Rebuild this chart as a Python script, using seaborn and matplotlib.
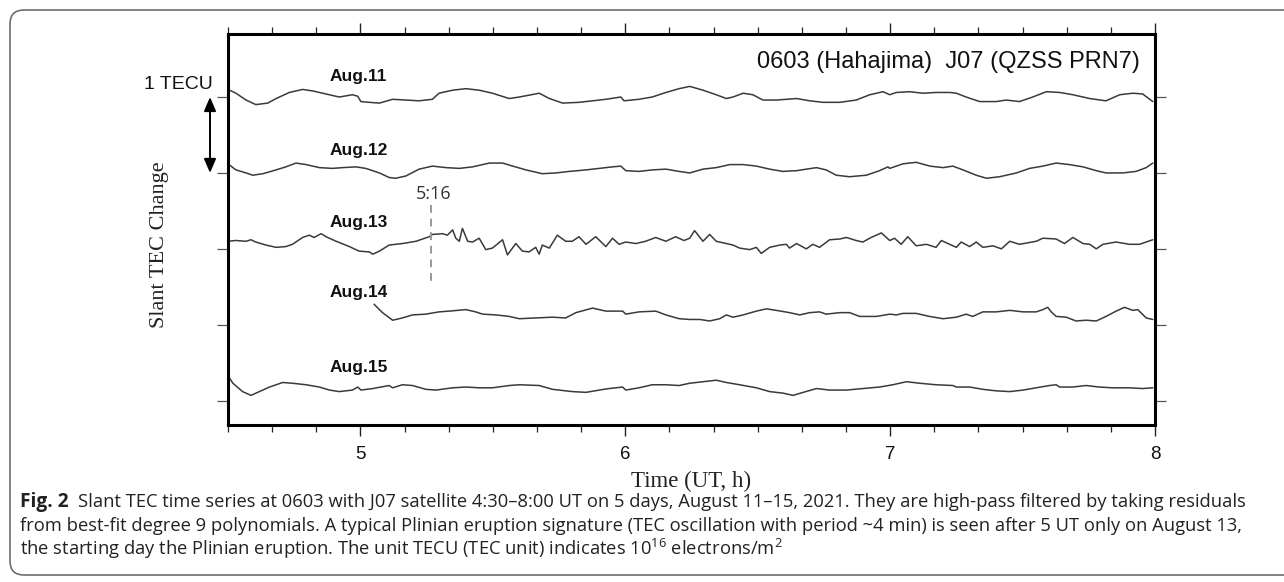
import numpy as np
import pandas as pd
import matplotlib
matplotlib.use("Agg")
import matplotlib.pyplot as plt
import matplotlib.transforms as mtransforms
from matplotlib.patches import FancyBboxPatch
from matplotlib.ticker import MultipleLocator, FixedLocator
import seaborn as sns

# ---------------- data (minutes after 4:30 UT, slant TEC residual in TECU) -------------
days = ["Aug.11", "Aug.12", "Aug.13", "Aug.14", "Aug.15"]

aug11_min = [0, 1.8, 4.1, 6.3, 9.0, 10.9, 13.9, 16.9, 19.2, 22.2, 25.2, 28.2, 29.4, 30.1, 32.0, 34.3,
             37.3, 40.3, 43.3, 46.3, 47.8, 50.9, 53.9, 56.9, 59.9, 63.7, 66.0, 70.5, 72.8, 75.8, 79.5,
             82.6, 85.6, 89.0, 89.7, 93.1, 96.1, 99.2, 102.2, 104.6, 107.6, 110.6, 112.9, 114.4, 116.7,
             118.9, 121.2, 124.2, 128.8, 131.8, 134.8, 138.6, 142.3, 145.4, 148.4, 149.9, 151.4, 154.4,
             157.4, 160.4, 163.5, 165.0, 167.2, 170.3, 174.0, 176.3, 179.3, 182.3, 185.4, 188.4, 191.4,
             195.2, 198.9, 202.0, 205.0, 207.2, 209.5]
aug11_tec = [0.10, 0.05, -0.04, -0.10, -0.08, -0.02, 0.06, 0.10, 0.08, 0.04, 0.00, 0.03, 0.01, -0.06,
             -0.07, -0.08, -0.03, -0.04, -0.05, -0.03, 0.05, 0.09, 0.11, 0.09, 0.05, -0.02, 0.00, 0.05,
             -0.02, -0.08, -0.07, -0.05, -0.03, 0.00, -0.05, -0.03, 0.00, 0.06, 0.11, 0.14, 0.09, 0.03,
             -0.02, 0.00, 0.05, 0.03, -0.04, -0.04, -0.02, -0.05, -0.07, -0.07, -0.04, 0.03, 0.07, 0.03,
             0.06, 0.07, 0.05, 0.06, 0.06, 0.05, 0.00, -0.06, -0.06, -0.04, -0.06, 0.00, 0.07, 0.06, 0.03,
             -0.02, -0.05, 0.03, 0.05, 0.04, -0.06]

aug12_min = [0, 1.8, 4.1, 5.6, 7.9, 10.9, 13.1, 15.4, 17.7, 20.7, 23.7, 26.0, 29.0, 31.2, 34.3, 36.5,
             38.0, 40.3, 43.3, 46.3, 49.4, 52.4, 55.4, 59.2, 62.2, 64.5, 67.5, 71.2, 74.3, 77.3, 81.1,
             84.1, 87.1, 89.0, 90.1, 93.1, 96.1, 99.2, 102.2, 104.6, 107.6, 110.6, 113.7, 116.7, 119.7,
             122.7, 125.7, 128.8, 133.3, 135.5, 137.8, 140.8, 144.6, 147.6, 149.5, 149.9, 152.9, 155.9,
             159.0, 162.0, 164.2, 166.5, 169.5, 171.8, 174.8, 178.6, 181.6, 184.6, 187.6, 190.6, 193.7,
             196.7, 198.9, 202.7, 205.7, 208.0, 209.5]
aug12_tec = [0.12, 0.04, 0.00, -0.03, -0.01, 0.04, 0.08, 0.13, 0.11, 0.07, 0.06, 0.07, 0.08, 0.06, 0.00,
             -0.06, -0.07, -0.04, 0.05, 0.09, 0.07, 0.06, 0.08, 0.13, 0.13, 0.09, 0.04, -0.01, 0.00, 0.02,
             0.04, 0.06, 0.08, 0.09, 0.03, 0.02, 0.04, 0.05, 0.02, 0.00, 0.05, 0.07, 0.11, 0.11, 0.09,
             0.05, 0.02, 0.03, 0.07, 0.04, -0.03, -0.05, -0.03, 0.03, 0.08, 0.06, 0.12, 0.14, 0.09, 0.07,
             0.09, 0.04, -0.03, -0.07, -0.05, 0.00, 0.06, 0.09, 0.13, 0.11, 0.08, 0.03, 0.00, 0.00, 0.02,
             0.07, 0.13]

aug13_min = [0, 1.8, 4.1, 5.2, 6.3, 8.6, 10.9, 13.1, 14.6, 16.9, 18.4, 19.5, 21.1, 22.2, 24.5, 27.5,
             29.7, 32.0, 32.8, 34.3, 36.5, 39.5, 42.6, 44.1, 45.6, 46.3, 48.6, 49.7, 50.9, 51.6, 52.4,
             53.1, 54.3, 55.4, 56.9, 58.4, 59.9, 62.2, 63.3, 65.2, 66.7, 68.2, 69.7, 70.5, 71.2, 72.8,
             74.6, 76.5, 78.0, 79.5, 81.1, 83.3, 85.6, 87.1, 88.6, 90.1, 92.4, 94.6, 96.9, 99.2, 101.4,
             103.3, 104.6, 105.7, 107.6, 109.1, 110.6, 112.9, 114.4, 115.9, 118.2, 119.7, 120.8, 122.7,
             125.0, 126.5, 127.2, 128.8, 131.0, 132.5, 134.0, 136.3, 138.6, 140.1, 142.3, 143.8, 145.7,
             148.0, 149.9, 151.0, 152.5, 154.0, 155.9, 158.2, 160.4, 161.6, 163.1, 165.0, 166.1, 168.0,
             169.5, 171.0, 173.3, 175.2, 177.1, 179.3, 183.1, 184.6, 187.6, 189.5, 191.4, 193.7, 195.2,
             196.7, 198.2, 201.2, 204.2, 206.5, 209.5]
aug13_tec = [0.10, 0.11, 0.10, 0.12, 0.09, 0.05, 0.02, 0.03, 0.06, 0.15, 0.18, 0.15, 0.20, 0.16, 0.10,
             0.03, -0.03, -0.04, -0.07, -0.03, 0.05, 0.07, 0.10, 0.13, 0.16, 0.19, 0.20, 0.18, 0.25, 0.14,
             0.10, 0.27, 0.10, 0.09, 0.14, -0.01, 0.01, 0.12, -0.08, 0.07, -0.03, -0.04, 0.02, -0.07, 0.05,
             0.01, 0.18, 0.10, 0.10, 0.16, 0.06, 0.16, 0.03, 0.14, 0.06, 0.09, 0.07, 0.10, 0.15, 0.10, 0.16,
             0.11, 0.14, 0.24, 0.10, 0.19, 0.10, 0.07, 0.05, 0.01, -0.01, 0.02, -0.06, 0.02, 0.05, 0.06,
             0.01, 0.07, 0.00, 0.06, 0.02, 0.12, 0.13, 0.15, 0.11, 0.09, 0.15, 0.21, 0.11, 0.14, 0.06, 0.16,
             0.04, 0.06, 0.02, 0.11, 0.07, 0.02, 0.09, 0.03, 0.09, 0.02, 0.04, 0.00, 0.10, 0.06, 0.10, 0.14,
             0.13, 0.07, 0.15, 0.07, 0.06, 0.00, 0.06, 0.09, 0.06, 0.06, 0.12]

aug14_min = [33.1, 35.0, 37.3, 39.5, 41.8, 44.8, 47.8, 50.1, 53.9, 56.1, 57.7, 60.7, 63.7, 66.0, 69.7,
             73.5, 76.5, 78.8, 82.6, 85.6, 89.4, 90.1, 93.1, 96.9, 99.2, 102.2, 104.6, 106.9, 109.1,
             111.4, 112.9, 114.4, 116.7, 119.7, 122.0, 124.2, 127.2, 129.5, 131.8, 134.0, 135.5, 138.6,
             140.8, 143.1, 146.9, 149.9, 151.4, 152.9, 155.9, 158.9, 162.0, 165.0, 167.2, 168.7, 171.0,
             174.0, 177.1, 180.1, 183.1, 184.6, 185.7, 186.5, 187.6, 189.9, 192.1, 194.4, 196.7, 198.9,
             201.2, 203.1, 205.0, 206.1, 208.0, 209.5]
aug14_tec = [0.27, 0.16, 0.06, 0.09, 0.13, 0.14, 0.17, 0.18, 0.20, 0.17, 0.14, 0.13, 0.11, 0.08, 0.09,
             0.10, 0.09, 0.16, 0.22, 0.18, 0.18, 0.14, 0.17, 0.18, 0.13, 0.08, 0.07, 0.07, 0.05, 0.08, 0.13,
             0.10, 0.13, 0.18, 0.21, 0.19, 0.16, 0.13, 0.16, 0.17, 0.14, 0.16, 0.16, 0.11, 0.11, 0.14, 0.13,
             0.15, 0.15, 0.11, 0.08, 0.10, 0.14, 0.11, 0.17, 0.17, 0.19, 0.17, 0.17, 0.20, 0.23, 0.17, 0.11,
             0.10, 0.05, 0.06, 0.05, 0.11, 0.18, 0.23, 0.19, 0.20, 0.09, 0.07]

aug15_min = [0, 1.1, 3.3, 5.2, 7.1, 9.4, 12.4, 14.6, 17.7, 20.7, 23.0, 25.2, 28.2, 29.4, 30.1, 32.8,
             36.5, 37.3, 39.5, 41.8, 44.8, 47.1, 50.9, 53.9, 56.9, 59.9, 63.7, 66.0, 70.5, 73.5, 78.0,
             81.1, 84.1, 86.3, 89.4, 90.1, 93.1, 96.1, 99.2, 102.2, 104.6, 107.6, 110.6, 112.9, 115.9,
             119.7, 122.7, 125.7, 128.0, 130.3, 133.3, 136.3, 140.1, 143.8, 147.6, 150.6, 153.7, 156.7,
             160.4, 164.2, 165.0, 168.0, 171.0, 174.0, 177.1, 180.1, 183.1, 186.1, 187.6, 188.4, 191.4,
             194.4, 197.4, 200.4, 204.2, 207.2, 209.5]
aug15_tec = [0.33, 0.23, 0.12, 0.07, 0.12, 0.18, 0.24, 0.23, 0.21, 0.18, 0.14, 0.12, 0.14, 0.18, 0.14,
             0.16, 0.20, 0.17, 0.21, 0.20, 0.15, 0.14, 0.17, 0.18, 0.17, 0.17, 0.20, 0.21, 0.20, 0.15, 0.12,
             0.11, 0.14, 0.16, 0.18, 0.14, 0.17, 0.21, 0.21, 0.20, 0.23, 0.25, 0.27, 0.24, 0.21, 0.17, 0.12,
             0.10, 0.07, 0.11, 0.16, 0.14, 0.14, 0.16, 0.18, 0.21, 0.25, 0.23, 0.21, 0.20, 0.18, 0.18, 0.15,
             0.13, 0.12, 0.14, 0.17, 0.20, 0.21, 0.18, 0.18, 0.20, 0.18, 0.17, 0.17, 0.16, 0.17]

eruption_label = "5:16"
eruption_min = 46.0            # 5:16 UT = 46 min after 4:30
start_hour = 4.5
x_ticks = [5, 6, 7, 8]
x_ticklabels = ["5", "6", "7", "8"]

series_min = [aug11_min, aug12_min, aug13_min, aug14_min, aug15_min]
series_tec = [aug11_tec, aug12_tec, aug13_tec, aug14_tec, aug15_tec]

# ---------------- build long table, stacking each day 1 TECU below the previous -------
frames = []
for i, (d, m, v) in enumerate(zip(days, series_min, series_tec)):
    frames.append(pd.DataFrame({
        "hour": start_hour + np.asarray(m) / 60.0,
        "y": np.asarray(v) - i,
        "day": d,
    }))
df = pd.concat(frames, ignore_index=True)

# ---------------- figure ---------------------------------------------------------------
sns.set_theme(style="ticks")
plt.rcParams["font.family"] = ["Liberation Sans", "DejaVu Sans"]
plt.rcParams["mathtext.fontset"] = "custom"
plt.rcParams["mathtext.rm"] = "Open Sans"
plt.rcParams["mathtext.it"] = "Open Sans:italic"
plt.rcParams["mathtext.bf"] = "Open Sans:bold"

W, H = 1284, 582
fig = plt.figure(figsize=(W / 100, H / 100), dpi=100)
fig.patch.set_facecolor("white")

# rounded frame around the figure + caption (right side runs off the image)
frame = FancyBboxPatch((10, 7), 1500, 565, boxstyle="round,pad=0,rounding_size=14",
                       transform=mtransforms.IdentityTransform(), facecolor="none",
                       edgecolor="#6e6e6e", linewidth=1.2)
fig.add_artist(frame)

ax = fig.add_axes([228 / W, 1 - 425 / H, 927 / W, 391 / H])
ax.set_facecolor("white")

sns.lineplot(data=df, x="hour", y="y", units="day", estimator=None, sort=False,
             color="#3a3a3a", linewidth=1.1, ax=ax, legend=False)

ax.set_xlim(4.5, 8.0)
ax.set_ylim(-4.32, 0.83)

for s in ax.spines.values():
    s.set_visible(True)
    s.set_linewidth(2.2)
    s.set_color("black")

ax.xaxis.set_major_locator(FixedLocator(x_ticks))
ax.set_xticklabels(x_ticklabels)
ax.xaxis.set_minor_locator(MultipleLocator(1 / 6))
ax.set_yticks([-i for i in range(len(days))])
ax.set_yticklabels([])
ax.tick_params(axis="x", which="major", direction="out", length=8, width=1.0, color="#222",
               top=True, bottom=True, labelsize=13.5, pad=7, labelcolor="#111")
ax.tick_params(axis="x", which="minor", direction="out", length=5, width=0.9, color="#222",
               top=True, bottom=True)
ax.tick_params(axis="y", which="major", direction="out", length=8, width=0.9, color="#555",
               left=True, right=True)
ax.set_xlabel("")
ax.set_ylabel("")

# day labels
label_lift = [0.21, 0.24, 0.29, 0.36, 0.38]
for i, d in enumerate(days):
    ax.text(4.885, -i + label_lift[i], d, fontsize=12.5, fontweight="bold",
            ha="left", va="baseline", color="#111")

# station / satellite title
ax.text(0.984, 0.913, "0603 (Hahajima)  J07 (QZSS PRN7)", transform=ax.transAxes,
        ha="right", va="baseline", fontsize=17, color="#111")

# eruption onset marker
eh = start_hour + eruption_min / 60.0
ax.plot([eh, eh], [-1.42, -2.45], color="#999999", linewidth=1.4, linestyle=(0, (4, 3)))
ax.text(eh + 0.01, -1.34, eruption_label, ha="center", va="baseline", fontsize=13,
        family=["Open Sans", "DejaVu Sans"], color="#333")

# 1 TECU scale arrow (from Aug.11 baseline to Aug.12 baseline)
blend = mtransforms.blended_transform_factory(ax.transAxes, ax.transData)
ax.annotate("", xy=(-0.0194, -1.0), xytext=(-0.0194, 0.0), xycoords=blend, textcoords=blend,
            arrowprops=dict(arrowstyle="<|-|>,head_length=0.7,head_width=0.3",
                            color="black", linewidth=1.4, shrinkA=0, shrinkB=0),
            annotation_clip=False)
ax.text(-0.0162, 0.86, "1 TECU", transform=ax.transAxes, ha="right", va="baseline",
        fontsize=14, color="#111")

# axis titles (serif)
ax.text(-0.0734, 0.46, "Slant TEC Change", transform=ax.transAxes, rotation=90,
        ha="center", va="center", fontsize=16, family=["Liberation Serif", "DejaVu Serif"],
        color="#222")
ax.text(0.5, -0.158, "Time (UT, h)", transform=ax.transAxes, ha="center", va="baseline",
        fontsize=16.5, family=["Liberation Serif", "DejaVu Serif"], color="#222")

# ---------------- caption --------------------------------------------------------------
cap_font = ["Open Sans", "DejaVu Sans"]
cap_size = 13.2
x0 = 20 / W
fig.canvas.draw()
r = fig.canvas.get_renderer()
t_fig = fig.text(x0, 1 - 507 / H, "Fig. 2", fontsize=cap_size + 0.6, fontweight="bold",
                 family=cap_font, ha="left", va="baseline", color="#222")
bb = t_fig.get_window_extent(renderer=r)
fig.text((bb.x1 + 9) / W, 1 - 507 / H,
         "Slant TEC time series at 0603 with J07 satellite 4:30\u20138:00 UT on 5 days, "
         "August 11\u201315, 2021. They are high-pass filtered by taking residuals",
         fontsize=cap_size, family=cap_font, ha="left", va="baseline", color="#222")
fig.text(x0, 1 - 531 / H,
         "from best-fit degree 9 polynomials. A typical Plinian eruption signature "
         "(TEC oscillation with period ~4 min) is seen after 5 UT only on August 13,",
         fontsize=cap_size, family=cap_font, ha="left", va="baseline", color="#222")
fig.text(x0, 1 - 555 / H,
         "the starting day the Plinian eruption. The unit TECU (TEC unit) indicates "
         "10$^{16}$ electrons/m$^{2}$",
         fontsize=cap_size, family=cap_font, ha="left", va="baseline", color="#222")

fig.savefig("out.png", dpi=100)
